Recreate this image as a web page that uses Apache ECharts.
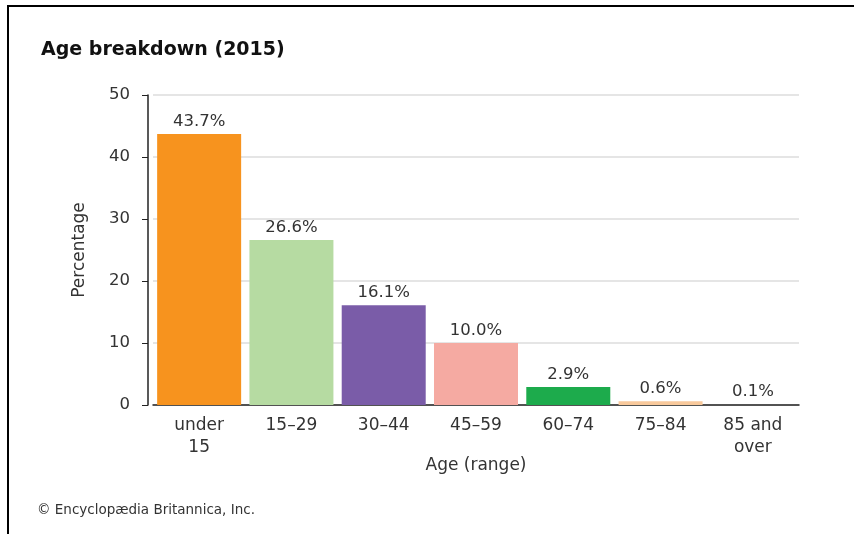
<!DOCTYPE html>
<html>
<head>
<meta charset="utf-8">
<script src="https://cdn.jsdelivr.net/npm/echarts@6/dist/echarts.min.js"></script>
<style>
html,body{margin:0;padding:0;background:#fff;}
#chart{width:854px;height:534px;position:absolute;left:0;top:0;}
#frame{position:absolute;left:7px;top:5px;right:-10px;bottom:-10px;border-top:2px solid #000;border-left:2px solid #000;pointer-events:none;}
</style>
</head>
<body>
<div id="chart"></div>
<div id="frame"></div>
<script>
const categories = ['under\n15', '15–29', '30–44', '45–59', '60–74', '75–84', '85 and\nover'];
const values = [43.7, 26.6, 16.1, 10.0, 2.9, 0.6, 0.1];
const colors = ['#F7931E', '#B6DBA2', '#7A5CA8', '#F5AAA2', '#1DAB4C', '#F8C99C', '#555555'];
const yTicks = [0, 10, 20, 30, 40, 50];

const chart = echarts.init(document.getElementById('chart'), null, {renderer: 'canvas'});
const font = '"DejaVu Sans", Verdana, sans-serif';
chart.setOption({
  animation: false,
  backgroundColor: '#fff',
  title: [
    {text: 'Age breakdown (2015)', left: 36, top: 36,
     textStyle: {fontFamily: font, fontSize: 19, fontWeight: 'bold', color: '#111'}},
    {text: '© Encyclopædia Britannica, Inc.', left: 32, top: 498,
     textStyle: {fontFamily: font, fontSize: 13.5, fontWeight: 'normal', color: '#333'}}
  ],
  grid: {left: 153, right: 55, top: 95, bottom: 129, containLabel: false},
  xAxis: {
    type: 'category',
    data: categories,
    axisLine: {show: true, lineStyle: {color: '#222', width: 1.5}},
    axisTick: {show: false},
    axisLabel: {fontFamily: font, fontSize: 17, color: '#333', margin: 10, lineHeight: 22},
    name: 'Age (range)',
    nameLocation: 'middle',
    nameGap: 52,
    nameMoveOverlap: false,
    nameTextStyle: {fontFamily: font, fontSize: 17, color: '#333'}
  },
  yAxis: {
    type: 'value',
    min: yTicks[0],
    max: yTicks[yTicks.length - 1],
    interval: 10,
    offset: 5,
    axisLine: {show: true, lineStyle: {color: '#222', width: 1.5}},
    axisTick: {show: true, length: 6, lineStyle: {color: '#222'}},
    axisLabel: {fontFamily: font, fontSize: 16.5, color: '#333', margin: 18},
    splitLine: {show: true, lineStyle: {color: '#dcdcdc', width: 1.5}},
    name: 'Percentage',
    nameLocation: 'middle',
    nameRotate: 90,
    nameGap: 60,
    nameMoveOverlap: false,
    nameTextStyle: {fontFamily: font, fontSize: 17, color: '#333'}
  },
  series: [{
    type: 'bar',
    data: values.map((v, i) => ({value: v, itemStyle: {color: colors[i]}})),
    barWidth: 84,
    label: {
      show: true,
      position: 'top',
      distance: 4,
      fontFamily: font,
      fontSize: 16.5,
      color: '#333',
      formatter: p => p.value.toFixed(1) + '%'
    }
  }]
});
</script>
</body>
</html>
